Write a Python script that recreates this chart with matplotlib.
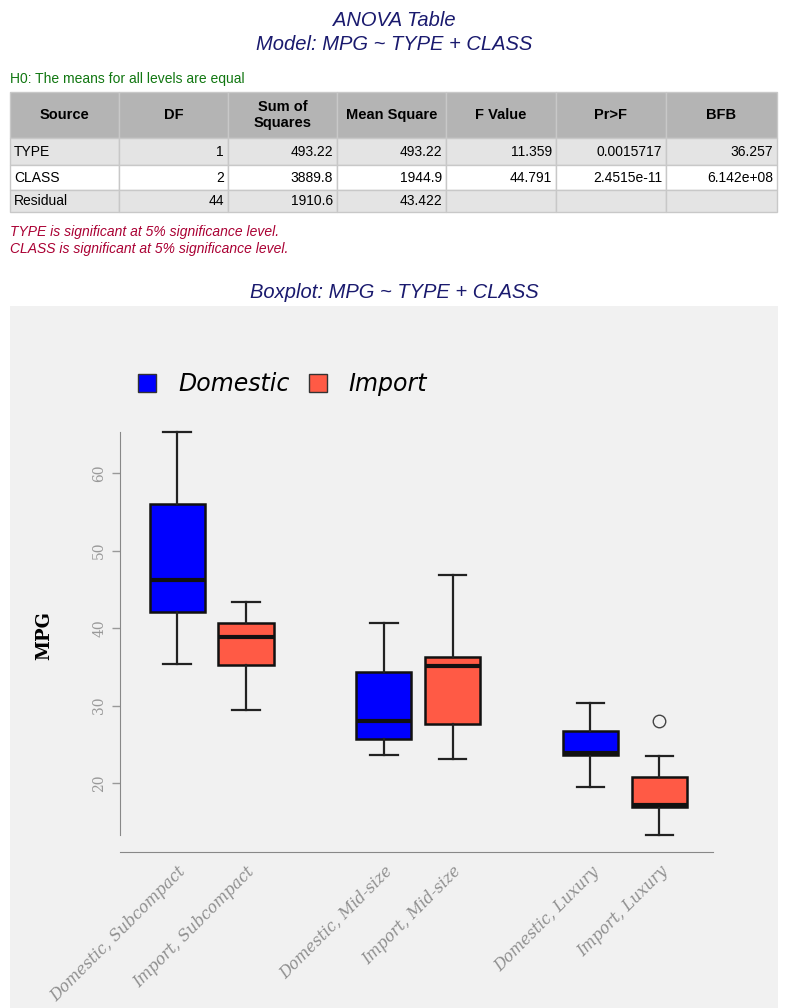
import matplotlib
matplotlib.use('Agg')
import matplotlib.pyplot as plt
from matplotlib.patches import Rectangle, Patch

# === ANOVA table data ===
columns = ['Source', 'DF', 'Sum of\nSquares', 'Mean Square', 'F Value', 'Pr>F', 'BFB']
sources = ['TYPE', 'CLASS', 'Residual']
df_vals = ['1', '2', '44']
sum_sq = ['493.22', '3889.8', '1910.6']
mean_sq = ['493.22', '1944.9', '43.422']
f_vals = ['11.359', '44.791', '']
p_vals = ['0.0015717', '2.4515e-11', '']
bfb = ['36.257', '6.142e+08', '']
notes = ['TYPE is significant at 5% significance level.',
         'CLASS is significant at 5% significance level.']

# === Boxplot stats ===
groups = ['Domestic, Subcompact', 'Import, Subcompact',
          'Domestic, Mid-size', 'Import, Mid-size',
          'Domestic, Luxury', 'Import, Luxury']
group_type = ['Domestic', 'Import', 'Domestic', 'Import', 'Domestic', 'Import']
positions = [1, 2, 4, 5, 7, 8]
whisker_lo = [35.4, 29.5, 23.6, 23.1, 19.5, 13.3]
q1 = [42.1, 35.2, 25.75, 27.7, 23.6, 16.9]
medians = [46.2, 38.9, 28.0, 35.1, 23.9, 17.2]
q3 = [56.0, 40.6, 34.4, 36.3, 26.8, 20.8]
whisker_hi = [65.3, 43.4, 40.7, 46.9, 30.4, 23.5]
outliers = [[], [], [], [], [], [28.0]]

colors = {'Domestic': '#0000ff', 'Import': '#ff5a45'}
navy = '#1a1a6e'

W, H = 789, 1008
fig = plt.figure(figsize=(W / 100, H / 100), dpi=100)
fig.patch.set_facecolor('white')

# background canvas in pixel coords
bg = fig.add_axes([0, 0, 1, 1])
bg.set_xlim(0, W)
bg.set_ylim(H, 0)
bg.axis('off')

sans = ['Liberation Sans', 'DejaVu Sans']
bg.text(W / 2, 20, 'ANOVA Table', ha='center', va='center', fontsize=14.5,
        style='italic', color=navy, family=sans)
bg.text(W / 2, 45, 'Model: MPG ~ TYPE + CLASS', ha='center', va='center', fontsize=14.5,
        style='italic', color=navy, family=sans)
bg.text(10, 79, 'H0: The means for all levels are equal', ha='left', va='center',
        fontsize=10, color='#117711', family=sans)

# table
col_edges = [10, 119, 228, 337, 446, 556, 666, 777]
row_edges = [92, 138, 165, 190, 212]
row_fill = ['#b4b4b4', '#e4e4e4', '#ffffff', '#e4e4e4']
table_rows = [columns] + [list(r) for r in zip(sources, df_vals, sum_sq, mean_sq,
                                                 f_vals, p_vals, bfb)]
for i, row in enumerate(table_rows):
    y0, y1 = row_edges[i], row_edges[i + 1]
    for j, val in enumerate(row):
        x0, x1 = col_edges[j], col_edges[j + 1]
        bg.add_patch(Rectangle((x0, y0), x1 - x0, y1 - y0, facecolor=row_fill[i],
                               edgecolor='#c8c8c8', linewidth=1))
        if i == 0:
            bg.text((x0 + x1) / 2, (y0 + y1) / 2, val, ha='center', va='center',
                    fontsize=10.5, fontweight='bold', family=sans, linespacing=1.25)
        elif j == 0:
            bg.text(x0 + 4, (y0 + y1) / 2, val, ha='left', va='center',
                    fontsize=10, family=sans)
        else:
            bg.text(x1 - 4, (y0 + y1) / 2, val, ha='right', va='center',
                    fontsize=10, family=sans)

for k, line in enumerate(notes):
    bg.text(10, 232 + 17 * k, line, ha='left', va='center', fontsize=10,
            style='italic', color='#aa0033', family=sans)

bg.text(W / 2, 292, 'Boxplot: MPG ~ TYPE + CLASS', ha='center', va='center',
        fontsize=14.5, style='italic', color=navy, family=sans)
bg.add_patch(Rectangle((10, 306), 768, 702, facecolor='#f1f1f1', edgecolor='none'))

# === boxplot ===
ax = fig.add_axes([120 / W, 1 - 852 / H, 593 / W, 432 / H])
ax.set_facecolor('none')
stats = []
for i in range(len(groups)):
    stats.append({'med': medians[i], 'q1': q1[i], 'q3': q3[i],
                  'whislo': whisker_lo[i], 'whishi': whisker_hi[i],
                  'fliers': outliers[i], 'label': groups[i]})
bp = ax.bxp(stats, positions=positions, widths=0.8, patch_artist=True,
            boxprops=dict(linewidth=1.8, edgecolor='#111111'),
            medianprops=dict(color='#111111', linewidth=3),
            whiskerprops=dict(color='#222222', linewidth=1.6),
            capprops=dict(color='#222222', linewidth=1.6),
            capwidths=0.4,
            flierprops=dict(marker='o', markerfacecolor='none',
                            markeredgecolor='#444444', markersize=9))
for patch, t in zip(bp['boxes'], group_type):
    patch.set_facecolor(colors[t])

ax.set_xlim(0.17, 8.78)
ax.set_ylim(11.14, 66.83)
ax.set_yticks([20, 30, 40, 50, 60])
ax.tick_params(axis='y', colors='#999999', length=6, width=1, pad=4)
for lbl in ax.get_yticklabels():
    lbl.set_rotation(90)
    lbl.set_va('center')
    lbl.set_family('DejaVu Serif')
    lbl.set_fontsize(10)
ax.tick_params(axis='x', length=0, pad=8)
ax.set_xticks(positions)
ax.set_xticklabels(groups, rotation=45, ha='right', va='top', rotation_mode='anchor',
                   fontsize=11.3, style='italic', family='DejaVu Serif', color='#8f8f8f')
for side in ['top', 'right']:
    ax.spines[side].set_visible(False)
ax.spines['left'].set_color('#888888')
ax.spines['bottom'].set_color('#888888')
ax.spines['left'].set_bounds(min(whisker_lo), max(whisker_hi))
ax.set_ylabel('MPG', fontsize=13, fontweight='bold', family='DejaVu Serif', labelpad=28)

handles = [Patch(facecolor=colors['Domestic'], edgecolor='#333333', label='Domestic'),
           Patch(facecolor=colors['Import'], edgecolor='#333333', label='Import')]
fig.legend(handles=handles, loc='center left', bbox_to_anchor=(117 / W, 1 - 384 / H),
           ncol=2, frameon=False, prop={'size': 17, 'style': 'italic'},
           handlelength=0.77, handleheight=0.77, columnspacing=0.8, handletextpad=0.93)

fig.savefig('out.png', dpi=100)
